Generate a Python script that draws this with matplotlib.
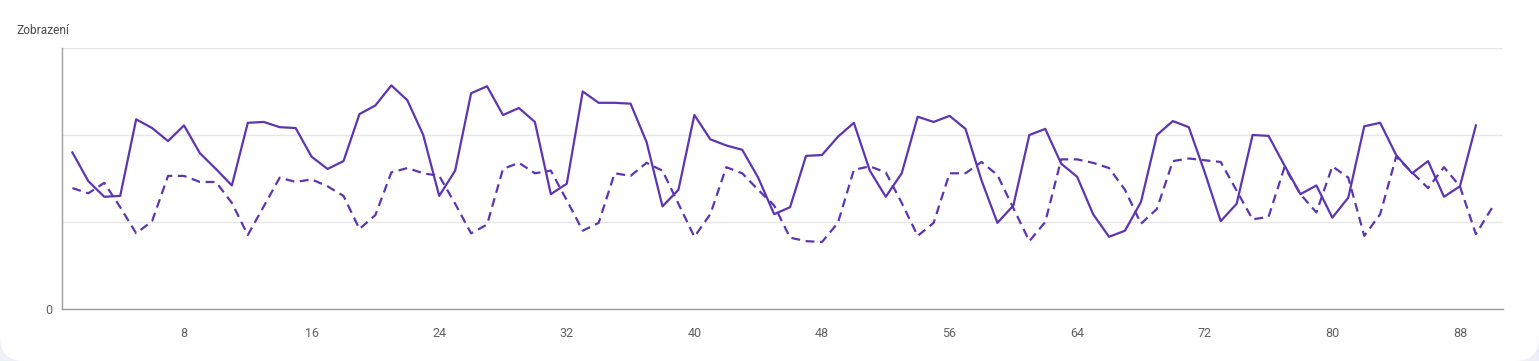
import numpy as np
import matplotlib.pyplot as plt
from matplotlib.patches import FancyBboxPatch
from matplotlib.transforms import IdentityTransform

# Data (index 1..89 solid, 1..90 dashed)
solid = [180, 147, 129, 130, 218, 208, 193, 211, 179, 161,
         142, 214, 215, 209, 208, 175, 161, 170, 224, 234,
         257, 240, 200, 130, 159, 248, 256, 223, 231, 215,
         132, 144, 250, 237, 237, 236, 192, 118, 137, 223,
         195, 188, 183, 151, 109, 117, 176, 177, 198, 214,
         159, 129, 156, 221, 215, 222, 207, 148, 99, 119,
         200, 207, 167, 152, 109, 83, 90, 123, 200, 216,
         209, 157, 101, 121, 200, 199, 165, 132, 142, 105,
         128, 210, 214, 177, 156, 170, 129, 141, 211]
dashed = [139, 133, 145, 117, 87, 101, 153, 153, 146, 146,
          122, 85, 118, 151, 146, 149, 141, 130, 92, 108,
          157, 162, 156, 153, 121, 87, 97, 161, 168, 156,
          159, 125, 90, 99, 156, 153, 168, 159, 121, 83,
          109, 163, 156, 137, 119, 82, 78, 77, 99, 160,
          164, 157, 122, 84, 99, 156, 156, 169, 154, 116,
          78, 100, 172, 172, 168, 162, 137, 98, 115, 170,
          173, 171, 169, 136, 103, 106, 163, 132, 111, 164,
          151, 84, 109, 175, 157, 139, 163, 141, 86, 116]
x_ticks = [8, 16, 24, 32, 40, 48, 56, 64, 72, 80, 88]

color = '#5e35b1'
plt.rcParams['font.family'] = ['Roboto', 'DejaVu Sans']

fig = plt.figure(figsize=(15.39, 3.61), dpi=100)
fig.patch.set_facecolor('#eef0f7')
# white card with rounded bottom corners
card = FancyBboxPatch((0, 0), 1539, 420, boxstyle='round,pad=0,rounding_size=24',
                      transform=IdentityTransform(), facecolor='white',
                      edgecolor='none', zorder=-5)
fig.patches.append(card)

ax = fig.add_axes([62 / 1539, 1 - 309 / 361, (1503 - 62) / 1539, (309 - 48) / 361])
ax.patch.set_alpha(0)

ax.plot(np.arange(1, len(solid) + 1), solid, color=color, lw=1.6)
ax.plot(np.arange(1, len(dashed) + 1), dashed, color=color, lw=1.6,
        ls=(0, (4, 2.5)))

ax.set_xlim(0.35, 90.7)
ax.set_ylim(0, 300)
ax.set_yticks([0, 100, 200, 300])
ax.set_yticklabels(['0', '', '', ''])
ax.set_xticks(x_ticks)
ax.grid(axis='y', color='#e6e6e6', lw=1)
ax.set_axisbelow(True)
ax.tick_params(length=0, colors='#616161', labelsize=9)
ax.tick_params(axis='x', pad=13)
ax.tick_params(axis='y', pad=7)
for s in ['top', 'right']:
    ax.spines[s].set_visible(False)
for s in ['left', 'bottom']:
    ax.spines[s].set_color('#9e9e9e')
    ax.spines[s].set_linewidth(1)

fig.text(16 / 1539, 1 - 31 / 361, 'Zobrazení', fontsize=8.6, color='#4a4a4a',
         va='center', ha='left')

fig.savefig('out.png', dpi=100, facecolor=fig.get_facecolor())
